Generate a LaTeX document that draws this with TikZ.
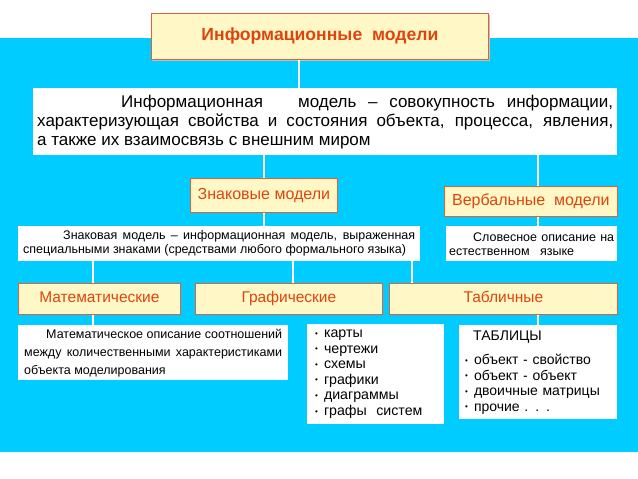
\documentclass[tikz,border=0pt]{standalone}
\usepackage{fontspec}
\setmainfont{Liberation Sans}
\definecolor{bg}{HTML}{00CCFF}
\definecolor{boxfill}{HTML}{FFF8C6}
\definecolor{boxline}{HTML}{E0603A}
\definecolor{headtxt}{HTML}{E0440E}
\newcommand{\bul}{{\fontsize{8}{8}\selectfont\raisebox{1.5pt}{•}}\hspace{6pt}}
\begin{document}
\begin{tikzpicture}[x=1pt,y=-1pt,
  head/.style={draw=boxline,line width=0.8pt,fill=boxfill,anchor=north west,inner sep=0pt,text=headtxt,text height=11.5pt,text depth=3.5pt},
  info/.style={fill=white,anchor=north west,inner sep=0pt},
  link/.style={draw=white,line width=2pt}]
\useasboundingbox (0,0) rectangle (638,479);
\fill[white] (0,0) rectangle (638,479);
\fill[bg] (0,38) rectangle (638,452);
\fill[black!25] (152,15) rectangle (490,61);

\node[head,minimum width=337,minimum height=46,text height=12.5pt,text depth=4pt,font=\bfseries\fontsize{17.6}{20}\selectfont] (title) at (151,13) {Информационные\ \ модели};

\node[info,minimum width=584,minimum height=67,text width=576,align=justify,font=\fontsize{17}{19}\selectfont] (def) at (33,88)
 {\hspace*{84pt}Информационная\ \ \ модель – совокупность информации,\linebreak характеризующая свойства и состояния объекта, процесса, явления,\linebreak а также их взаимосвязь с внешним миром};

\node[head,minimum width=147,minimum height=34,font=\fontsize{16}{18}\selectfont] (znak) at (190,178) {Знаковые модели};
\node[head,minimum width=173,minimum height=30,font=\fontsize{16}{18}\selectfont] (verb) at (444,186) {Вербальные\ \ модели};

\node[info,minimum width=402,minimum height=35,text width=392,align=justify,font=\fontsize{12.5}{14}\selectfont] (znaktext) at (18,226)
 {\hspace*{40pt}Знаковая модель – информационная модель, выраженная\linebreak специальными знаками (средствами любого формального языка)};
\node[info,minimum width=171,minimum height=35,text width=165,align=justify,font=\fontsize{12.5}{14}\selectfont] (verbtext) at (446,226)
 {\hspace*{24pt}Словесное описание на\linebreak естественном\ \ \ языке};

\node[head,minimum width=162,minimum height=31,font=\fontsize{15.5}{17}\selectfont] (math) at (18,283) {Математические};
\node[head,minimum width=187,minimum height=31,font=\fontsize{15.5}{17}\selectfont] (graph) at (195,283) {Графические};
\node[head,minimum width=228,minimum height=31,font=\fontsize{15.5}{17}\selectfont] (tabl) at (389,283) {Табличные};

\node[info,minimum width=270,minimum height=55,text width=258,align=justify,font=\fontsize{12.5}{18}\selectfont] (mathdesc) at (18,325)
 {\hspace*{22pt}Математическое описание соотношений\linebreak между количественными характеристиками\linebreak объекта моделирования};

\node[info,minimum width=137,minimum height=100,text width=125,align=left,font=\fontsize{14.2}{15.6}\selectfont] (glist) at (307,324)
 {\hspace*{2pt}\bul карты\\ \hspace*{2pt}\bul чертежи\\ \hspace*{2pt}\bul схемы\\ \hspace*{2pt}\bul графики\\ \hspace*{2pt}\bul диаграммы\\ \hspace*{2pt}\bul графы\ \ систем};

\node[info,minimum width=158,minimum height=94,text width=146,align=left,font=\fontsize{14}{15.5}\selectfont] (tables) at (459,325)
 {\hspace*{8pt}ТАБЛИЦЫ\\[9pt] \bul объект - свойство\\ \bul объект - объект\\ \bul двоичные матрицы\\ \bul прочие . . .};

\coordinate (titleout) at ([xshift=148pt]title.south west);
\coordinate (verbin) at ([xshift=94pt]verb.north west);
\coordinate (verbout) at ([xshift=94pt]verb.south west);
\coordinate (graphin) at ([xshift=98pt]graph.north west);
\coordinate (mathin) at ([xshift=75pt]math.north west);
\coordinate (mathout) at ([xshift=75pt]math.south west);
\coordinate (tablin) at ([xshift=23pt]tabl.north west);
\draw[link] (titleout) -- (titleout |- def.north);
\draw[link] (znak.north) -- (znak.north |- def.south);
\draw[link] (verbin) -- (verbin |- def.south);
\draw[link] (znak.south) -- (znak.south |- znaktext.north);
\draw[link] (verbout) -- (verbout |- verbtext.north);
\draw[link] (mathin) -- (mathin |- znaktext.south);
\draw[link] (graphin) -- (graphin |- znaktext.south);
\draw[link] (tablin) -- (tablin |- znaktext.south);
\draw[link] (mathout) -- (mathout |- mathdesc.north);
\draw[link] (tables.north) -- (tables.north |- tabl.south);
\end{tikzpicture}
\end{document}
